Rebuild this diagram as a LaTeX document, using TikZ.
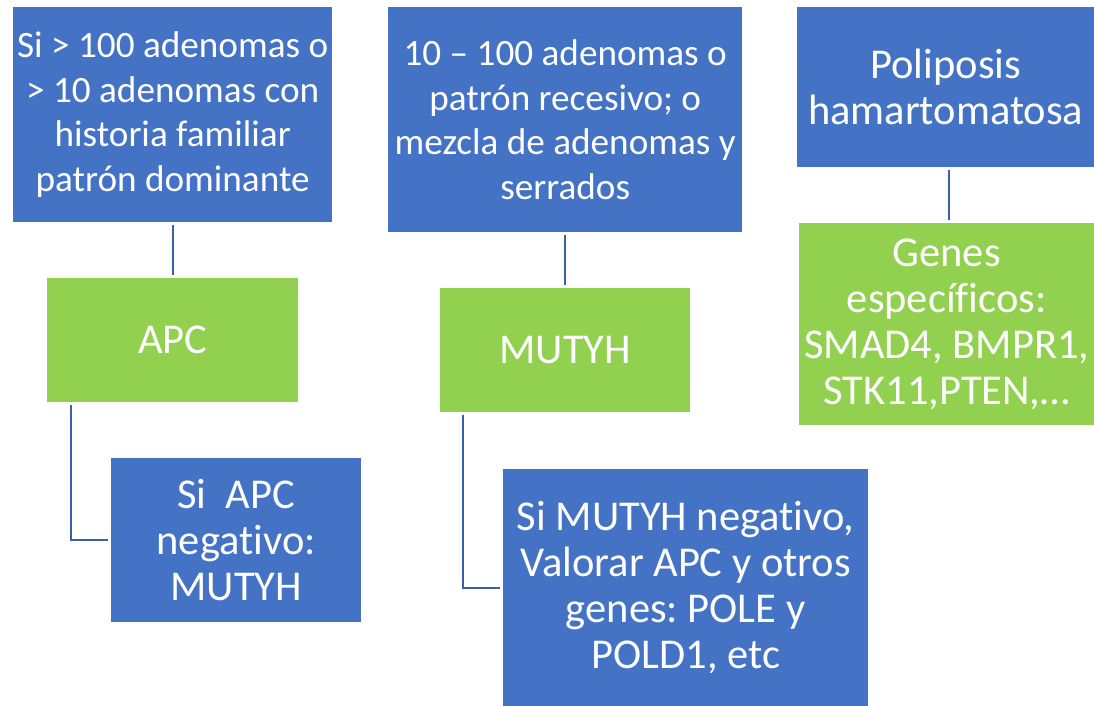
\documentclass[tikz,border=0pt]{standalone}
\usepackage{fontspec}
\setmainfont{Carlito}[Ligatures=NoCommon]
\usetikzlibrary{positioning}
\definecolor{boxblue}{HTML}{4472C4}
\definecolor{boxgreen}{HTML}{92D050}
\definecolor{linkblue}{HTML}{3A5FAD}
\tikzset{box/.style = {anchor=north west, inner sep=0pt, align=center,
                       text=white, font=\fontsize{42.5}{46}\selectfont\frenchspacing},
         smalltext/.style = {font=\fontsize{37.2}{44.5}\selectfont\frenchspacing},
         bluebox/.style = {box, fill=boxblue},
         greenbox/.style = {box, fill=boxgreen},
         link/.style = {draw=linkblue, line width=2pt, shorten <=3pt, shorten >=3pt}}

\begin{document}
\begin{tikzpicture}[x=1pt, y=-1pt]
      \useasboundingbox (0, 0) rectangle (1094, 706);
      \node [bluebox, smalltext, minimum width=319pt, minimum height=215pt] (muchos) at (13, 7)
            {Si > 100 adenomas o\\> 10 adenomas con\\historia familiar\\patrón dominante};
      \node [bluebox, smalltext, minimum width=354pt, minimum height=225pt] (recesivo) at (388, 7)
            {10 – 100 adenomas o\\patrón recesivo; o\\mezcla de adenomas y\\serrados};
      \node [bluebox, minimum width=297pt, minimum height=160pt] (hamarto) at (797, 7)
            {Poliposis\\hamartomatosa};
      \node [greenbox, minimum width=251pt, minimum height=124pt] (apc) at (47, 278) {APC};
      \node [greenbox, minimum width=250pt, minimum height=124pt] (mutyh) at (440, 288) {MUTYH};
      \node [greenbox, minimum width=295pt, minimum height=202pt] (genes) at (799, 223)
            {Genes\\específicos:\\SMAD4, BMPR1,\\STK11,PTEN,…};
      \node [bluebox, minimum width=250pt, minimum height=164pt] (apcneg) at (111, 458)
            {Si\ \ APC\\negativo:\\MUTYH};
      \node [bluebox, minimum width=365pt, minimum height=237pt] (mutyhneg) at (503, 469)
            {Si MUTYH negativo,\\Valorar APC y otros\\genes: POLE y\\POLD1, etc};
      \draw [link] (muchos.south -| 173, 0) -- (apc.north -| 173, 0);
      \draw [link] (recesivo.south -| 565, 0) -- (mutyh.north -| 565, 0);
      \draw [link] (hamarto.south -| 949, 0) -- (genes.north -| 949, 0);
      \draw [link] ([xshift=24pt]apc.south west) |- (apcneg.west);
      \draw [link] ([xshift=23pt]mutyh.south west) |- (mutyhneg.west);
\end{tikzpicture}
\end{document}
